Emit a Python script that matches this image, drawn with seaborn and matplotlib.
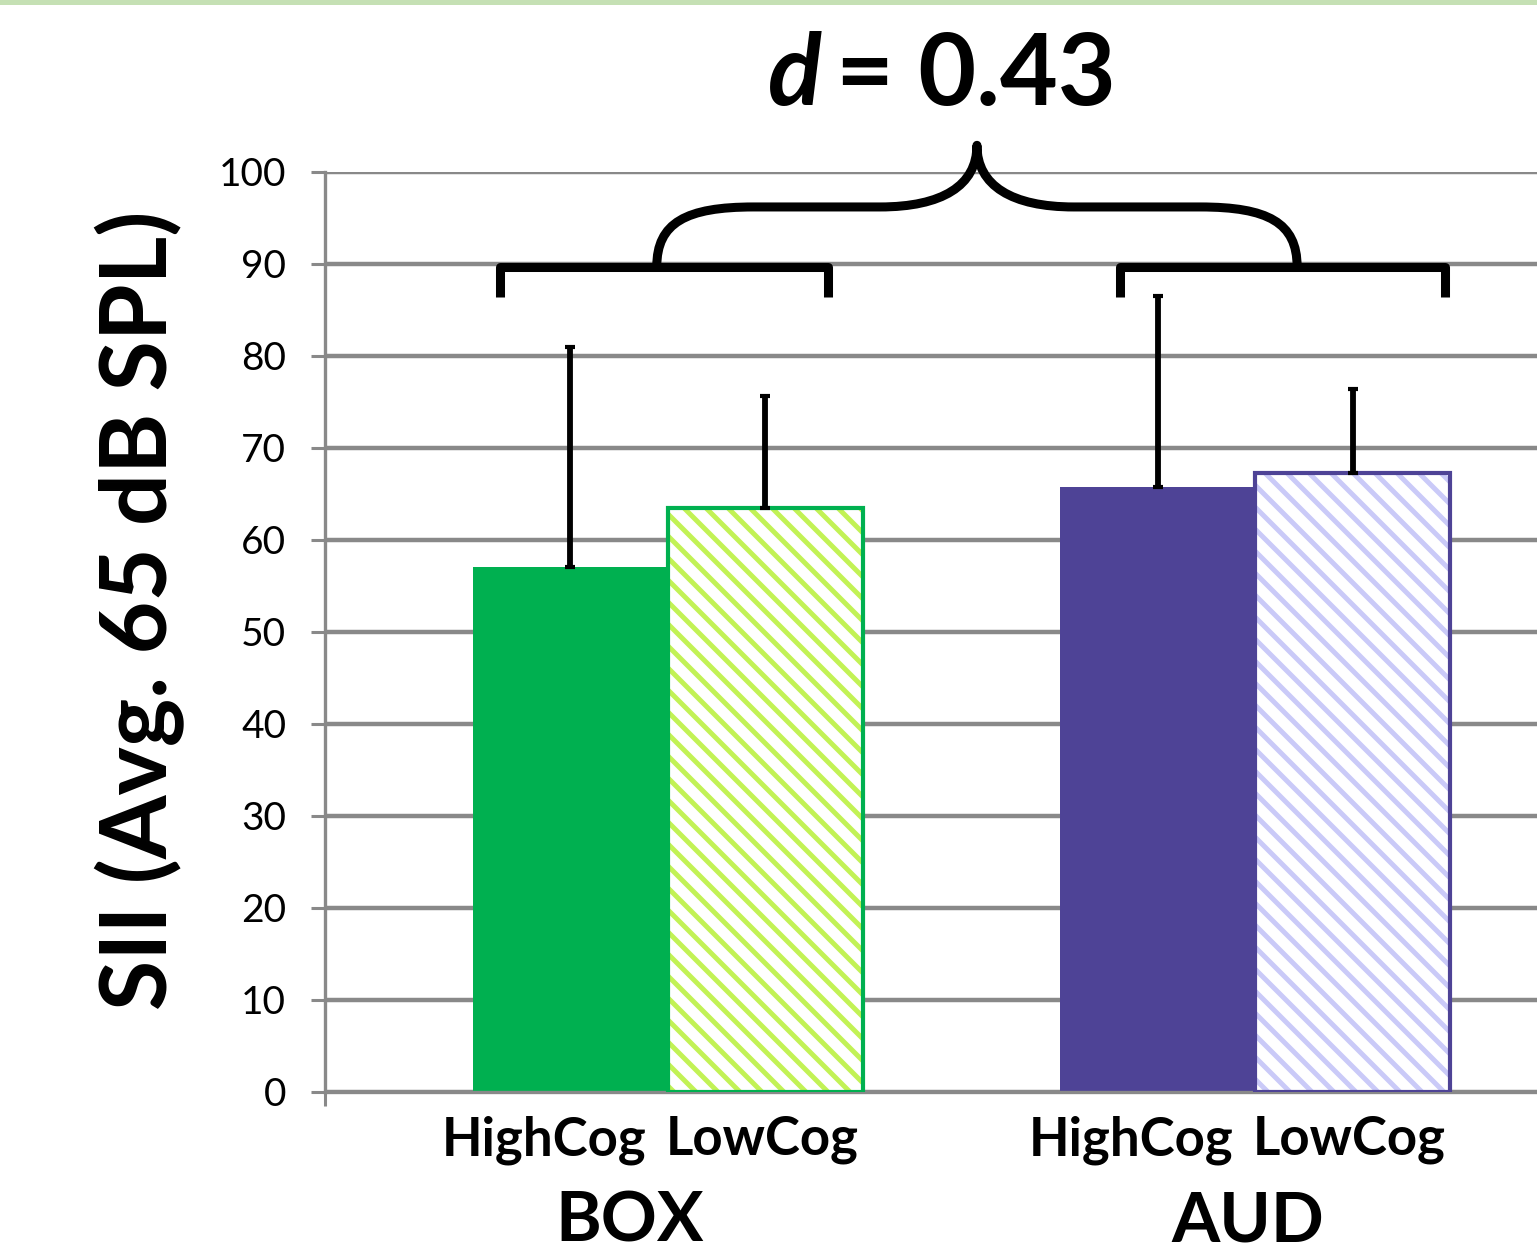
import numpy as np
import pandas as pd
import seaborn as sns
import matplotlib.pyplot as plt
from matplotlib.path import Path
from matplotlib.patches import PathPatch, Rectangle

# Veriler
gruplar = ["BOX", "BOX", "AUD", "AUD"]
bilis = ["HighCog", "LowCog", "HighCog", "LowCog"]
sii_ort = [57.1, 63.5, 65.8, 67.3]
sii_sd = [23.9, 12.1, 20.7, 9.1]
y_ticks = [0, 10, 20, 30, 40, 50, 60, 70, 80, 90, 100]
etki = "0.43"

grup_sira = ["BOX", "AUD"]
bilis_sira = ["HighCog", "LowCog"]

df = pd.DataFrame({"grup": gruplar, "bilis": bilis, "sii": sii_ort, "sd": sii_sd})

# tarama aralığı için dpi 132 (tüm boyutlar k ile ölçekleniyor)
DPI = 132
k = 100 / DPI

sns.set_theme(style="white")
plt.rcParams["font.family"] = ["Lato", "DejaVu Sans"]
plt.rcParams["hatch.linewidth"] = 2.7
plt.rcParams["text.color"] = "black"
plt.rcParams["xtick.color"] = "black"
plt.rcParams["ytick.color"] = "black"

# Renkler: (dolgu, tarama, kenar)
stiller = {
    ("BOX", "HighCog"): ("#00B050", None, "#00B050"),
    ("BOX", "LowCog"): ("white", "#C2F255", "#00B050"),
    ("AUD", "HighCog"): ("#4E4396", None, "#4E4396"),
    ("AUD", "LowCog"): ("white", "#CACAF8", "#4E4396"),
}
gri = "#898989"

fig = plt.figure(figsize=(1537 / DPI, 1259 / DPI), dpi=DPI)
ax = fig.add_axes([325 / 1537, 1 - 1092 / 1259, 1 - 325 / 1537, 920 / 1259])

sns.barplot(data=df, x="grup", y="sii", hue="bilis", order=grup_sira, hue_order=bilis_sira,
            width=0.664, errorbar=None, legend=False, saturation=1, ax=ax)

for p in list(ax.patches):
    cx = p.get_x() + p.get_width() / 2
    gi = int(round(cx))
    bi = 0 if cx < gi else 1
    g, b = grup_sira[gi], bilis_sira[bi]
    dolgu, tarama, kenar = stiller[(g, b)]
    p.set_zorder(2)
    if tarama is None:
        p.set_facecolor(dolgu)
        p.set_edgecolor(dolgu)
        p.set_linewidth(0)
    else:
        p.set_facecolor("white")
        p.set_hatch("\\\\")
        p.set_edgecolor(tarama)
        p.set_linewidth(0)
        ax.bar(cx, p.get_height(), width=p.get_width(), fill=False, edgecolor=kenar,
               linewidth=3 * k, zorder=3)
    row = df[(df.grup == g) & (df.bilis == b)].iloc[0]
    ax.errorbar(cx, row.sii, yerr=[[0], [row.sd]], fmt="none", ecolor="black",
                elinewidth=4.2 * k, capsize=3.5 * k, capthick=3 * k, zorder=4)
    # alt etiketler
    if b == "HighCog":
        ax.text(gi - 0.037, -0.052, b, ha="right", va="center", fontsize=38 * k,
                fontweight="bold", transform=ax.get_xaxis_transform())
    else:
        ax.text(gi - 0.004, -0.052, b, ha="left", va="center", fontsize=38 * k,
                fontweight="bold", transform=ax.get_xaxis_transform())

for gi, g in enumerate(grup_sira):
    ax.text(gi - 0.065 if g == "BOX" else gi - 0.012, -0.141, g, ha="center", va="center",
            fontsize=50 * k, fontweight="bold", transform=ax.get_xaxis_transform())

xmin, xmax = -0.584, 1.480
ax.set_xlim(xmin, xmax)
ax.set_ylim(0, 100)
ax.set_yticks(y_ticks)
ax.set_yticklabels([str(t) for t in y_ticks], fontsize=28 * k)
ax.set_xticks([xmin])
ax.set_xticklabels([""])
ax.set_xlabel("")
ax.set_ylabel("")
ax.yaxis.grid(True, color=gri, linewidth=3.2 * k)
ax.set_axisbelow(True)
for s in ["top", "right"]:
    ax.spines[s].set_visible(False)
for s in ["left", "bottom"]:
    ax.spines[s].set_color(gri)
    ax.spines[s].set_linewidth(2.4 * k)
ax.tick_params(axis="y", direction="out", length=10 * k, width=2.2 * k, color=gri,
               pad=18 * k, left=True)
ax.tick_params(axis="x", direction="out", length=10 * k, width=2.2 * k, color=gri, bottom=True)

# Köşeli parantezler
lw = 6.5 * k
for gi, (sol, sag) in enumerate([(-0.286, 0.273), (-0.230, 0.324)]):
    xs = [gi + sol, gi + sol, gi + sag, gi + sag]
    ys = [86.4, 89.7, 89.7, 86.4]
    ax.plot(xs, ys, color="black", lw=lw, solid_joinstyle="round", solid_capstyle="butt",
            clip_on=False, zorder=5)

# Süslü parantez
xl, xr = -0.019, 1.0715
xt = (xl + xr) / 2
yb, yh, yt = 89.7, 96.2, 102.9
verts = [(xl, yb), (xl, 94.5), (xl + 0.05, yh), (xl + 0.165, yh),
         (xt - 0.165, yh),
         (xt - 0.06, yh), (xt, 98.5), (xt, yt),
         (xt, 98.5), (xt + 0.06, yh), (xt + 0.165, yh),
         (xr - 0.165, yh),
         (xr - 0.05, yh), (xr, 94.5), (xr, yb)]
codes = [Path.MOVETO, Path.CURVE4, Path.CURVE4, Path.CURVE4,
         Path.LINETO,
         Path.CURVE4, Path.CURVE4, Path.CURVE4,
         Path.CURVE4, Path.CURVE4, Path.CURVE4,
         Path.LINETO,
         Path.CURVE4, Path.CURVE4, Path.CURVE4]
ax.add_patch(PathPatch(Path(verts, codes), fill=False, edgecolor="black", lw=lw,
                       capstyle="round", joinstyle="round", clip_on=False, zorder=5))

# Başlık: d = 0.43
fig.text(822 / 1537, 1 - 105 / 1259, "d", ha="right", va="baseline", fontsize=72 * k,
         fontweight="bold", style="italic")
fig.text(836 / 1537, 1 - 105 / 1259, "= " + etki, ha="left", va="baseline", fontsize=72 * k,
         fontweight="bold")

# Y ekseni başlığı
fig.text(140 / 1537, 1 - 610 / 1259, "SII (Avg. 65 dB SPL)", rotation=90, ha="center",
         va="center", fontsize=66 * k, fontweight="bold")

# Üstteki yeşil şerit
fig.patches.append(Rectangle((0, 1 - 5 / 1259), 1, 5 / 1259, transform=fig.transFigure,
                             facecolor="#C5E0B4", edgecolor="none", figure=fig))

fig.savefig("out.png", dpi=DPI)
